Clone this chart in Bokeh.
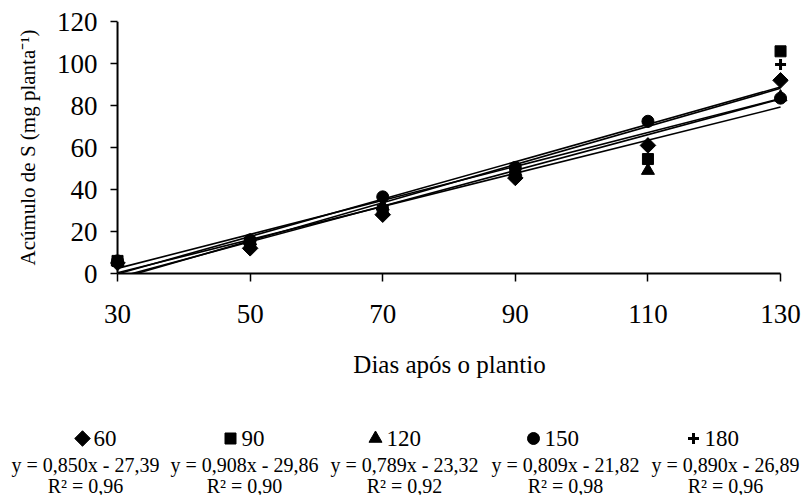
import math
from bokeh.plotting import figure
from bokeh.models import Range1d, FixedTicker, Span, Label
from bokeh.layouts import column
from bokeh.embed import file_html
from bokeh.resources import INLINE

# ---------------- data ----------------
days = [30, 50, 70, 90, 110, 130]
series_names = ["60", "90", "120", "150", "180"]
s60 = [5.0, 12.0, 28.0, 45.5, 61.0, 92.0]
s90 = [6.0, 14.5, 30.0, 47.5, 54.5, 105.8]
s120 = [5.5, 15.5, 32.0, 48.5, 49.0, 84.0]
s150 = [6.0, 16.0, 36.5, 50.5, 72.5, 83.5]
s180 = [5.5, 14.0, 31.0, 47.0, 72.0, 99.5]
slopes = [0.850, 0.908, 0.789, 0.809, 0.890]
intercepts = [-27.39, -29.86, -23.32, -21.82, -26.89]
r2_values = ["0,96", "0,90", "0,92", "0,98", "0,96"]
x_ticks = [30, 50, 70, 90, 110, 130]
y_ticks = [0, 20, 40, 60, 80, 100, 120]

series_values = [s60, s90, s120, s150, s180]
eq_labels = []
for a, b in zip(slopes, intercepts):
    sa = f"{a:.3f}".replace(".", ",")
    sb = f"{abs(b):.2f}".replace(".", ",")
    sign = "-" if b < 0 else "+"
    eq_labels.append(f"y = {sa}x {sign} {sb}")
r2_labels = [f"R² = {r}" for r in r2_values]

# ---------------- styles ----------------
FONT = "Liberation Serif"
W = 810
H1 = 385
H2 = 110
markers = ["square", "square", "triangle", "circle", "cross"]
angles = [math.pi / 4, 0, 0, 0, 0]
sizes = [11, 11, 13, 12, 11]
lwidths = [1, 1, 1, 1, 3]

p = figure(width=W, height=H1,
           x_range=Range1d(28.94, 131.2), y_range=Range1d(0, 120),
           output_backend="svg", toolbar_location=None,
           min_border_left=110, min_border_right=22,
           min_border_top=21, min_border_bottom=112)
p.xgrid.visible = False
p.ygrid.visible = False
p.outline_line_color = None
p.background_fill_color = "white"
p.border_fill_color = "white"

p.xaxis.bounds = (x_ticks[0], x_ticks[-1])
p.xaxis.ticker = FixedTicker(ticks=x_ticks)
p.yaxis.ticker = FixedTicker(ticks=y_ticks)

for ax in (p.xaxis, p.yaxis):
    ax.axis_line_color = "black"
    ax.axis_line_width = 2
    ax.major_tick_line_color = "black"
    ax.major_tick_line_width = 1.5
    ax.minor_tick_line_color = None
    ax.major_label_text_font = FONT
    ax.major_label_text_font_size = "27px"
    ax.major_label_text_color = "black"
    ax.axis_label_text_font = FONT
    ax.axis_label_text_font_style = "normal"
    ax.axis_label_text_color = "black"

p.xaxis.major_tick_in = 0
p.xaxis.major_tick_out = 8
p.xaxis.major_label_standoff = 23
p.xaxis.axis_label = "Dias após o plantio"
p.xaxis.axis_label_text_font_size = "25px"
p.xaxis.axis_label_standoff = 25

# y axis: labels/ticks at the frame edge, the axis line itself at x = 30
p.yaxis.axis_line_color = None
p.yaxis.major_tick_in = 7
p.yaxis.major_tick_out = 0
p.yaxis.major_label_standoff = 13
p.yaxis.axis_label = "Acúmulo de S (mg planta⁻¹)"
p.yaxis.axis_label_text_font_size = "21px"
p.yaxis.axis_label_standoff = 14
p.add_layout(Span(location=x_ticks[0], dimension="height",
                  line_color="black", line_width=2))

# regression lines
x0, x1 = days[0], days[-1]
for a, b in zip(slopes, intercepts):
    p.line([x0, x1], [a * x0 + b, a * x1 + b], line_color="black", line_width=1.6)

# points
for vals, mk, ang, sz, lw in zip(series_values, markers, angles, sizes, lwidths):
    p.scatter(days, vals, marker=mk, angle=ang, size=sz,
              fill_color="black", line_color="black", line_width=lw)

# ---------------- legend ----------------
leg = figure(width=W, height=H2, x_range=Range1d(0, W), y_range=Range1d(0, H2),
             x_axis_type=None, y_axis_type=None,
             output_backend="svg", toolbar_location=None, min_border=0)
leg.frame_align = False
leg.xgrid.visible = False
leg.ygrid.visible = False
leg.outline_line_color = None

marker_x = [82, 230, 375, 533, 693]
eq_x = [85, 244, 404, 565, 725]
row1, row2, row3 = 57, 31, 10
label_gap = 11

for i in range(len(series_names)):
    leg.scatter([marker_x[i]], [row1], marker=markers[i], angle=angles[i], size=sizes[i],
                fill_color="black", line_color="black", line_width=lwidths[i])
    leg.add_layout(Label(x=marker_x[i] + label_gap, y=row1, text=series_names[i],
                         text_font=FONT, text_font_size="23px", text_align="left",
                         text_baseline="middle", text_color="black"))
    leg.add_layout(Label(x=eq_x[i], y=row2, text=eq_labels[i],
                         text_font=FONT, text_font_size="20px", text_align="center",
                         text_baseline="middle", text_color="black"))
    leg.add_layout(Label(x=eq_x[i], y=row3, text=r2_labels[i],
                         text_font=FONT, text_font_size="20px", text_align="center",
                         text_baseline="middle", text_color="black"))

layout = column(p, leg)
open("out.html", "w").write(file_html(layout, INLINE))
